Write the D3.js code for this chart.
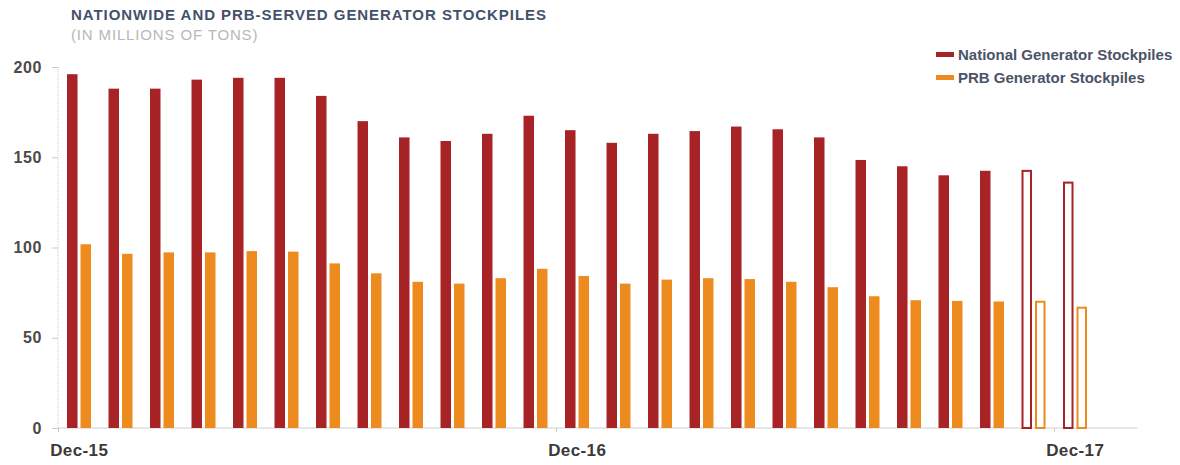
<!DOCTYPE html>
<html><head><meta charset="utf-8">
<script src="https://cdn.jsdelivr.net/npm/d3@7"></script>
<style>body{margin:0;background:#fff}svg{display:block}text{font-family:"Liberation Sans",Arial,sans-serif}</style>
</head><body>
<svg id="c" width="1180" height="465"></svg>
<script>
const months = ["Dec-15","Jan-16","Feb-16","Mar-16","Apr-16","May-16","Jun-16","Jul-16","Aug-16","Sep-16","Oct-16","Nov-16","Dec-16","Jan-17","Feb-17","Mar-17","Apr-17","May-17","Jun-17","Jul-17","Aug-17","Sep-17","Oct-17","Nov-17","Dec-17"];
const national = [196,188,188,193,194,194,184,170,161,159,163,173,165,158,163,164.5,167,165.5,161,148.5,145,140,142.5,143,136.5];
const prb = [101.8,96.5,97.3,97.3,98,97.7,91.2,85.7,81,80,83,88.2,84.2,80,82.2,83,82.5,81,78,73,70.8,70.4,70.1,70.5,67.2];
const estimated = ["Nov-17","Dec-17"];
const xTickLabels = ["Dec-15","Dec-16","Dec-17"];
const yTicks = [0,50,100,150,200];
const seriesNames = ["National Generator Stockpiles","PRB Generator Stockpiles"];
const colors = ["#A82325","#EE8B1F"];

const svg = d3.select("#c");
const y = d3.scaleLinear().domain([0,200]).range([428,67]);
const x = d3.scaleLinear().domain([0,26]).range([58.5,1137.5]);
const slot = x(1)-x(0);
const sub = d3.scaleBand().domain(["n","p"]).range([slot*0.205, slot*0.783]).paddingInner(0.222);

// title
svg.append("text").attr("x",71).attr("y",20).attr("fill","#44516a").attr("font-size",15).attr("font-weight","bold").attr("letter-spacing",0.95).text("NATIONWIDE AND PRB-SERVED GENERATOR STOCKPILES");
svg.append("text").attr("x",71).attr("y",40).attr("fill","#b8b8b8").attr("font-size",15).attr("letter-spacing",0.85).text("(IN MILLIONS OF TONS)");

// y axis
const ya = svg.append("g").attr("transform","translate(58,0)").call(d3.axisLeft(y).tickValues(yTicks).tickSize(6).tickPadding(10));
ya.select(".domain").attr("stroke","#ccc").attr("stroke-dasharray","1,1").attr("d","M0,67V428");
ya.selectAll(".tick line").attr("stroke","#ccc");
ya.selectAll(".tick text").attr("fill","#4a4a4a").attr("font-size",16).attr("letter-spacing",0.6).attr("font-weight","bold").attr("font-family","Liberation Sans, Arial, sans-serif");

// x axis
const xa = svg.append("g").attr("transform","translate(0,428)");
xa.append("line").attr("x1",x(0)).attr("x2",x(26)).attr("stroke","#d0d0d0").attr("stroke-width",1.2);
xTickLabels.forEach(l=>{
  const i = months.indexOf(l);
  xa.append("line").attr("x1",x(i)).attr("x2",x(i)).attr("y1",0).attr("y2",4).attr("stroke","#ccc");
  xa.append("text").attr("x",x(i+0.5)).attr("y",28).attr("text-anchor","middle").attr("fill","#3a3a3a").attr("font-size",17).attr("letter-spacing",0.4).attr("font-weight","bold").text(l);
});

// bars
const data = months.map((m,i)=>({m,i,n:national[i],p:prb[i],est:estimated.includes(m)}));
const g = svg.append("g");
[["n",0],["p",1]].forEach(([k,ci])=>{
  g.selectAll("rect."+k).data(data).join("rect").attr("class",k)
    .each(function(d){
      const r = d3.select(this);
      const x0 = x(d.i)+sub(k), w = sub.bandwidth(), yt = y(d[k]), h = y(0)-y(d[k]);
      if(d.est){
        r.attr("x",x0+1).attr("y",yt+1).attr("width",w-2).attr("height",h-1)
         .attr("fill","#fff").attr("stroke",colors[ci]).attr("stroke-width",2);
      } else {
        r.attr("x",x0).attr("y",yt).attr("width",w).attr("height",h).attr("fill",colors[ci]);
      }
    });
});

// legend
const lg = svg.append("g").attr("transform","translate(936,0)");
seriesNames.forEach((s,i)=>{
  const yy = 55 + i*23;
  lg.append("rect").attr("x",0).attr("y",yy-3).attr("width",18).attr("height",5).attr("fill",colors[i]);
  lg.append("text").attr("x",22).attr("y",yy+5).attr("fill","#4a5466").attr("font-size",15).attr("font-weight","bold").text(s);
});
</script>
</body></html>
